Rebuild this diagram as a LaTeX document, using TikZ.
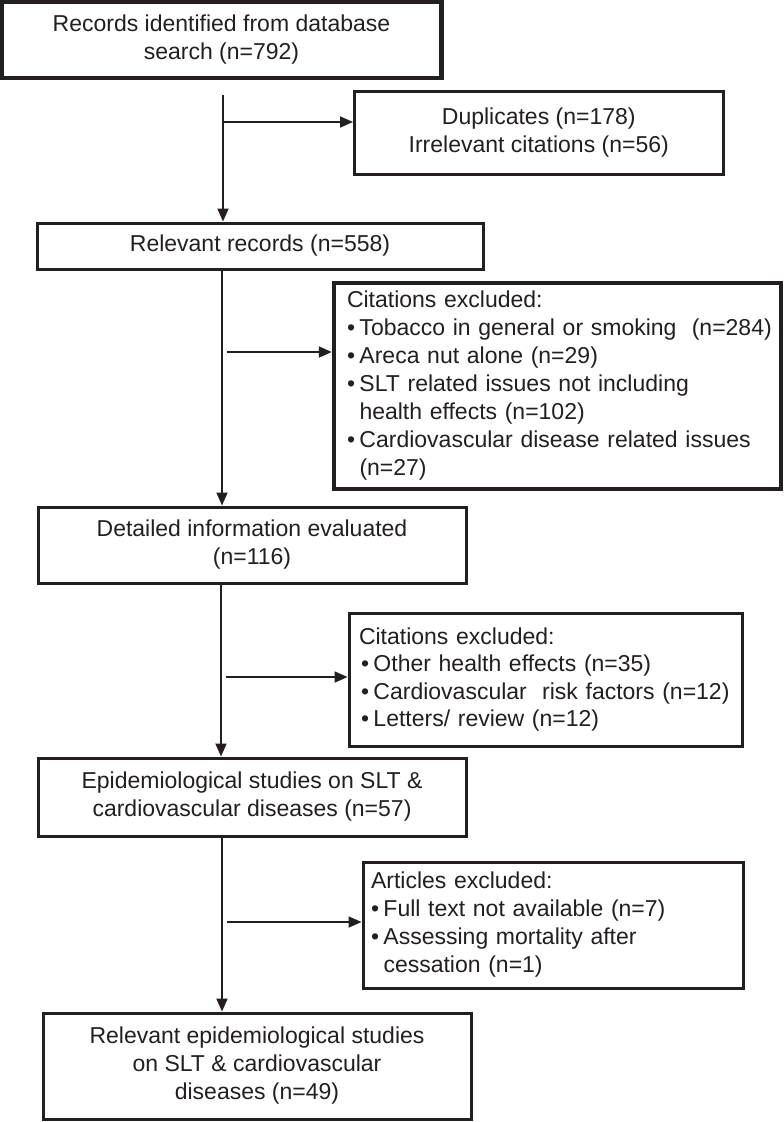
\documentclass[tikz,border=0pt]{standalone}
\usepackage{fontspec}
\setmainfont{Liberation Sans}
\usetikzlibrary{arrows.meta}
\definecolor{ink}{RGB}{35,31,32}
\newcommand\boxfont{\fontsize{23}{28}\selectfont}
\newcommand\bul[1][0pt]{\hspace*{#1}\makebox[12.5pt][l]{•}}
\newcommand\ind{\hspace*{12.5pt}}
\begin{document}
\begin{tikzpicture}[x=1pt,y=-1pt,
  box/.style={draw=ink, line width=3pt, text=ink, font=\boxfont, align=center, inner sep=0pt},
  thickbox/.style={box, line width=4.5pt},
  arr/.style={draw=ink, line width=1.8pt, -{Triangle[length=13pt,width=11pt]}}]
\useasboundingbox (0,0) rectangle (784,1122);
\fill[white] (0,0) rectangle (784,1122);

% main column
\node[thickbox, minimum width=440pt, minimum height=76pt] (rec) at (221.5,40)
  {Records identified from database\\search (n=792)};
\node[box, minimum width=446pt, minimum height=46pt] (rel) at (260,246)
  {Relevant records (n=558)};
\node[box, minimum width=428pt, minimum height=76pt] (det) at (252,545)
  {Detailed information evaluated\\(n=116)};
\node[box, minimum width=428pt, minimum height=78pt] (epi) at (252,797)
  {Epidemiological studies on SLT \&\\cardiovascular diseases (n=57)};
\node[box, minimum width=428pt, minimum height=106pt] (fin) at (257,1066)
  {Relevant epidemiological studies\\on SLT \& cardiovascular\\diseases (n=49)};

% side boxes
\node[box, minimum width=368.5pt, minimum height=82.5pt] (dup) at (538.75,132.75)
  {Duplicates (n=178)\\Irrelevant citations (n=56)};
\node[thickbox, align=left, inner xsep=13pt, text width=421pt, minimum height=206pt] (cit1) at (557.5,386)
  {\mbox{Citations excluded:}\\
   \mbox{\bul Tobacco in general or smoking\ \ (n=284)}\\
   \mbox{\bul Areca nut alone (n=29)}\\
   \mbox{\bul SLT related issues not including}\\
   \mbox{\ind health effects (n=102)}\\
   \mbox{\bul Cardiovascular disease related issues}\\
   \mbox{\ind (n=27)}};
\node[box, align=left, inner xsep=10pt, text width=373pt, minimum height=133pt] (cit2) at (545.5,680)
  {\mbox{Citations excluded:}\\[-1pt]
   \mbox{\bul[2pt]Other health effects (n=35)}\\
   \mbox{\bul[2pt]Cardiovascular\ \ risk factors (n=12)}\\[-1pt]
   \mbox{\bul[2pt]Letters/ review (n=12)}};
\node[box, align=left, inner xsep=8pt, text width=364pt, minimum height=126pt] (art) at (553,925)
  {\mbox{Articles excluded:}\\
   \mbox{\bul Full text not available (n=7)}\\
   \mbox{\bul Assessing mortality after}\\
   \mbox{\ind cessation (n=1)}};

% connector anchors
\coordinate (s1) at (223,95);
\coordinate (b1) at (223,122);
\coordinate (v2) at (222,0);
\coordinate (b2) at (227,352);
\coordinate (v3) at (221,0);
\coordinate (b3) at (226,677);
\coordinate (v4) at (222,0);
\coordinate (b4) at (227,922);

\draw[arr] (s1) -- (s1 |- rel.north);
\draw[arr] (b1) -- (b1 -| dup.west);
\draw[arr] (rel.south -| v2) -- (det.north -| v2);
\draw[arr] (b2) -- (b2 -| cit1.west);
\draw[arr] (det.south -| v3) -- (epi.north -| v3);
\draw[arr] (b3) -- (b3 -| cit2.west);
\draw[arr] (epi.south -| v4) -- (fin.north -| v4);
\draw[arr] (b4) -- (b4 -| art.west);
\end{tikzpicture}
\end{document}
